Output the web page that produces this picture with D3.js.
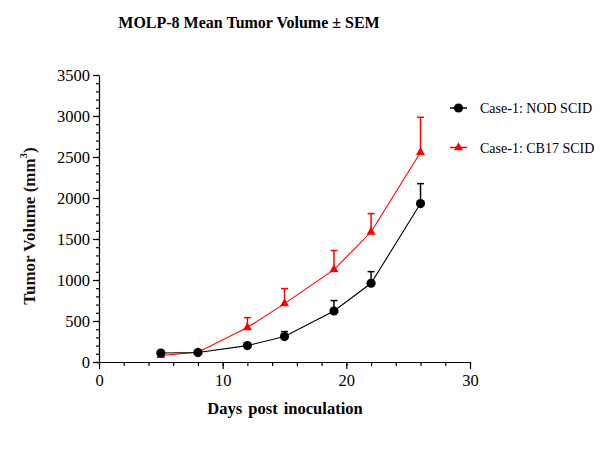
<!DOCTYPE html>
<html>
<head>
<meta charset="utf-8">
<script src="https://cdn.jsdelivr.net/npm/d3@7"></script>
<style>
	body { margin: 0; background: #fff; }
	text { font-family: "Liberation Serif", "Times New Roman", serif; }
</style>
</head>
<body>
<div id="chart"></div>
<script>
const days = [5, 8, 12, 15, 19, 22, 26]
const nodMean = [110, 115, 200, 310, 622, 960, 1932]
const nodSem = [15, 10, 20, 61, 127, 142, 243]
const cb17Mean = [80, 118, 420, 712, 1127, 1585, 2557]
const cb17Sem = [10, 10, 121, 183, 232, 225, 427]
const seriesNames = ["Case-1: NOD SCID", "Case-1: CB17 SCID"]
const xTicks = [0, 10, 20, 30]
const yTicks = [0, 500, 1000, 1500, 2000, 2500, 3000, 3500]

const width = 609, height = 452
const margin = { top: 75, left: 99 }
const plotW = 371, plotH = 287

const svg = d3.select("#chart")
	.append("svg")
	.attr("width", width)
	.attr("height", height)

const g = svg.append("g")
	.attr("transform", `translate(${margin.left},${margin.top})`)

const x = d3.scaleLinear().domain([0, 30]).range([0, plotW])
const y = d3.scaleLinear().domain([0, 3500]).range([plotH, 0])

// minor ticks first, then major axes on top
g.append("g")
	.attr("transform", `translate(0,${plotH})`)
	.call(d3.axisBottom(x).tickValues(d3.range(0, 31, 2)).tickSize(4).tickFormat(""))
	.call((a) => a.select(".domain").remove())

g.append("g")
	.call(d3.axisLeft(y).tickValues(d3.range(0, 3501, 100)).tickSize(3).tickFormat(""))
	.call((a) => a.select(".domain").remove())

g.append("g")
	.attr("class", "x-axis")
	.attr("transform", `translate(0,${plotH})`)
	.call(d3.axisBottom(x).tickValues(xTicks).tickFormat(d3.format("d")).tickSize(7).tickSizeOuter(0).tickPadding(5))

g.append("g")
	.attr("class", "y-axis")
	.call(d3.axisLeft(y).tickValues(yTicks).tickFormat(d3.format("d")).tickSize(6).tickSizeOuter(0).tickPadding(3))

g.selectAll(".x-axis text, .y-axis text")
	.attr("font-family", "Liberation Serif, Times New Roman, serif")
	.attr("font-size", 16.5)
	.attr("fill", "#000")
g.selectAll(".tick line, .domain").attr("stroke", "#000").attr("stroke-width", 1.2)

const line = d3.line()
	.x((d) => x(d.day))
	.y((d) => y(d.mean))

const series = [
	{ name: seriesNames[1], color: "#ff0000", marker: "triangle",
		data: days.map((d, i) => ({ day: d, mean: cb17Mean[i], sem: cb17Sem[i] })) },
	{ name: seriesNames[0], color: "#000000", marker: "circle",
		data: days.map((d, i) => ({ day: d, mean: nodMean[i], sem: nodSem[i] })) },
]

const tri = d3.symbol().type(d3.symbolTriangle).size(36)
const circ = d3.symbol().type(d3.symbolCircle).size(66)

series.forEach((s) => {
	const sg = g.append("g")
	// error bars, upward only
	s.data.forEach((d) => {
		const top = y(d.mean + d.sem)
		sg.append("line")
			.attr("x1", x(d.day)).attr("x2", x(d.day))
			.attr("y1", y(d.mean)).attr("y2", top)
			.attr("stroke", s.color).attr("stroke-width", 1.5)
		sg.append("line")
			.attr("x1", x(d.day) - 3.5).attr("x2", x(d.day) + 3.5)
			.attr("y1", top).attr("y2", top)
			.attr("stroke", s.color).attr("stroke-width", 1.5)
	})
	sg.append("path")
		.datum(s.data)
		.attr("fill", "none")
		.attr("stroke", s.color)
		.attr("stroke-width", 1.1)
		.attr("d", line)
	sg.selectAll(".pt")
		.data(s.data)
		.enter()
		.append("path")
		.attr("transform", (d) => `translate(${x(d.day)},${y(d.mean)})`)
		.attr("d", s.marker === "circle" ? circ : tri)
		.attr("fill", s.color)
})

// title and axis labels
svg.append("text")
	.attr("x", 249).attr("y", 28)
	.attr("text-anchor", "middle")
	.attr("font-size", 16).attr("font-weight", "bold")
	.text("MOLP-8 Mean Tumor Volume ± SEM")

svg.append("text")
	.attr("x", 285).attr("y", 414)
	.attr("text-anchor", "middle")
	.attr("font-size", 16.5).attr("font-weight", "bold")
	.attr("word-spacing", 2)
	.text("Days post inoculation")

const yl = svg.append("text")
	.attr("transform", "translate(35,226) rotate(-90)")
	.attr("text-anchor", "middle")
	.attr("font-size", 17).attr("font-weight", "bold")
	.attr("fill", "#1a0a0a")
yl.append("tspan").text("Tumor Volume (mm")
yl.append("tspan").attr("font-size", 11).attr("dy", -8).text("3")
yl.append("tspan").attr("dy", 8).text(")")

// legend
const legend = svg.append("g").attr("transform", "translate(450,108)")
;[series[1], series[0]].forEach((s, i) => {
	const lg = legend.append("g").attr("transform", `translate(0,${i * 39.5})`)
	lg.append("line")
		.attr("x1", 0).attr("x2", 17)
		.attr("stroke", s.color).attr("stroke-width", 1.5)
	lg.append("path")
		.attr("transform", "translate(8.5,0)")
		.attr("d", s.marker === "circle" ? circ : tri)
		.attr("fill", s.color)
	lg.append("text")
		.attr("x", 30).attr("y", 5)
		.attr("font-size", 14)
		.text(s.name)
})
</script>
</body>
</html>
